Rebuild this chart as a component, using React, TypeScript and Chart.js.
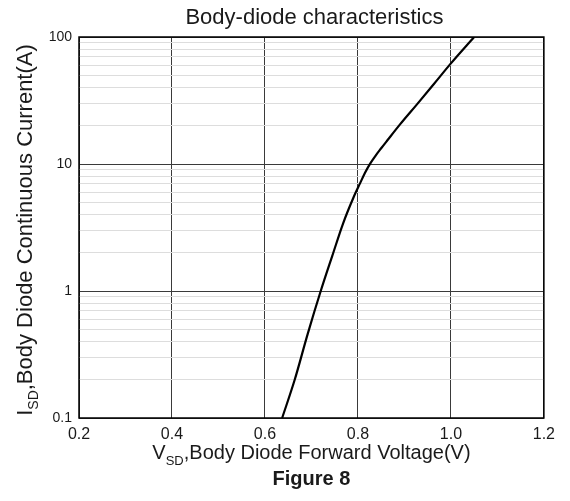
import { useEffect, useRef } from "react";
import { Chart, registerables } from "chart.js";

Chart.register(...registerables);

// ---- data ----
const forwardVoltage = [0.637, 0.664, 0.692, 0.72, 0.745, 0.768, 0.79, 0.805, 0.815, 0.825, 0.837, 0.85, 0.863, 0.891, 0.927, 0.963, 1.0, 1.05];
const diodeCurrent = [0.1, 0.2, 0.46, 1.0, 1.9, 3.4, 5.4, 7.1, 8.5, 9.9, 11.5, 13.3, 15.3, 20.6, 29.5, 42.5, 62, 100];
const xTickValues = [0.2, 0.4, 0.6, 0.8, 1.0, 1.2];
const yDecades = [0.1, 1, 10, 100];
const yMinorSteps = [1, 2, 3, 4, 5, 6, 7, 8, 9];
const chartTitle = "Body-diode characteristics";
const xTitleParts = ["V", "SD", ",Body Diode Forward Voltage(V)"];
const yTitleParts = ["I", "SD", ",Body Diode Continuous Current(A)"];
const figureLabel = "Figure 8";

const FONT = '"Liberation Sans", Arial, Helvetica, sans-serif';

function isDecade(v: number) {
  const l = Math.log10(v);
  return Math.abs(l - Math.round(l)) < 1e-6;
}

function drawSubText(ctx: CanvasRenderingContext2D, parts: string[], size: number, subSize: number, cx: number, baseline: number) {
  const big = `${size}px ${FONT}`;
  const small = `${subSize}px ${FONT}`;
  ctx.font = big;
  const w0 = ctx.measureText(parts[0]).width;
  const w2 = ctx.measureText(parts[2]).width;
  ctx.font = small;
  const w1 = ctx.measureText(parts[1]).width;
  let x = cx - (w0 + w1 + w2) / 2;
  ctx.textAlign = "left";
  ctx.textBaseline = "alphabetic";
  ctx.font = big;
  ctx.fillText(parts[0], x, baseline);
  x += w0;
  ctx.font = small;
  ctx.fillText(parts[1], x, baseline + subSize * 0.45);
  x += w1;
  ctx.font = big;
  ctx.fillText(parts[2], x, baseline);
}

const textPlugin = {
  id: "textPlugin",
  afterDraw(chart: any) {
    const ctx: CanvasRenderingContext2D = chart.ctx;
    const a = chart.chartArea;
    const cx = (a.left + a.right) / 2;
    ctx.save();
    // frame
    ctx.strokeStyle = "#000";
    ctx.lineWidth = 1.5;
    ctx.strokeRect(a.left, a.top, a.right - a.left, a.bottom - a.top);
    ctx.fillStyle = "#1a1a1a";
    // title
    ctx.font = `22px ${FONT}`;
    ctx.textAlign = "center";
    ctx.textBaseline = "alphabetic";
    ctx.fillText(chartTitle, cx + 3, 16);
    // x title
    drawSubText(ctx, xTitleParts, 20, 13, cx, 451);
    // figure label
    ctx.font = `bold 20px ${FONT}`;
    ctx.textAlign = "center";
    ctx.fillText(figureLabel, cx, 477);
    // y title
    ctx.translate(24, 222);
    ctx.rotate(-Math.PI / 2);
    drawSubText(ctx, yTitleParts, 22, 14, 0, 0);
    ctx.restore();
  },
};

export default function App() {
  const ref = useRef<HTMLCanvasElement | null>(null);
  useEffect(() => {
    if (!ref.current) return;
    const points = forwardVoltage.map((v, i) => ({ x: v, y: diodeCurrent[i] }));
    const chart = new Chart(ref.current, {
      type: "line",
      data: {
        datasets: [
          {
            data: points,
            borderColor: "#000",
            borderWidth: 2.2,
            pointRadius: 0,
            fill: false,
            cubicInterpolationMode: "monotone",
          },
        ],
      },
      options: {
        animation: false,
        responsive: false,
        devicePixelRatio: 1,
        layout: { padding: { left: 0, right: 14, top: 29, bottom: 0 } },
        plugins: { legend: { display: false }, tooltip: { enabled: false }, title: { display: false } },
        scales: {
          x: {
            type: "linear",
            min: 0.2,
            max: 1.2,
            afterBuildTicks: (scale: any) => {
              scale.ticks = xTickValues.map((v) => ({ value: v }));
            },
            afterFit: (scale: any) => {
              scale.height = 75;
            },
            ticks: {
              padding: 7,
              color: "#1a1a1a",
              font: { family: FONT, size: 16 },
              callback: (v: any) => Number(v).toFixed(1),
            },
            grid: { color: "#3a3a3a", lineWidth: 1, drawTicks: false },
            border: { display: false },
          },
          y: {
            type: "logarithmic",
            min: 0.1,
            max: 100,
            afterBuildTicks: (scale: any) => {
              const t: any[] = [];
              for (let d = 0; d < yDecades.length - 1; d++) {
                for (const m of yMinorSteps) t.push({ value: m === 1 ? yDecades[d] : yDecades[d] * m });
              }
              t.push({ value: yDecades[yDecades.length - 1] });
              scale.ticks = t;
            },
            afterFit: (scale: any) => {
              scale.width = 71;
            },
            ticks: {
              padding: 7,
              color: "#1a1a1a",
              font: { family: FONT, size: 14 },
              autoSkip: false,
              callback: (v: any) => (isDecade(Number(v)) ? String(Number(v)) : ""),
            },
            grid: {
              drawTicks: false,
              lineWidth: 1,
              color: (c: any) => (c.tick && isDecade(c.tick.value) ? "#3a3a3a" : "#dddddd"),
            },
            border: { display: false },
          },
        },
      },
      plugins: [textPlugin],
    } as any);
    return () => chart.destroy();
  }, []);
  return (
    <div style={{ width: 554, height: 485 }}>
      <canvas ref={ref} width={554} height={485} style={{ display: "block" }} />
    </div>
  );
}
